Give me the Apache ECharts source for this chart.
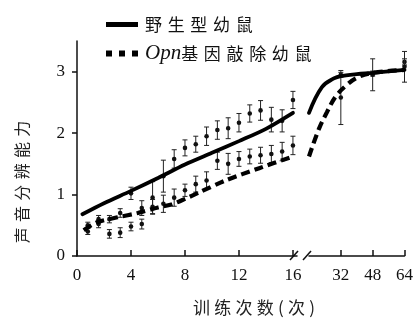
<!DOCTYPE html>
<html>
<head>
<meta charset="utf-8">
<script src="https://cdn.jsdelivr.net/npm/echarts@6/dist/echarts.min.js"></script>
<style>
  html, body { margin: 0; padding: 0; background: #fff; }
  #chart { width: 416px; height: 320px; }
</style>
</head>
<body>
<div id="chart"></div>
<script>
// Group names
const WT = '野生型幼鼠';
const KO = 'Opn基因敲除幼鼠';

// Early training sessions (0–16) with mean ± error for each group
const sessions = [0.8, 1.6, 2.4, 3.2, 4.0, 4.8, 5.6, 6.4, 7.2, 8.0, 8.8, 9.6, 10.4, 11.2, 12.0, 12.8, 13.6, 14.4, 15.2, 16.0];
const wtMean = [0.50, 0.60, 0.36, 0.38, 1.02, 0.78, 0.95, 1.30, 1.58, 1.76, 1.82, 1.95, 2.05, 2.08, 2.17, 2.32, 2.37, 2.22, 2.20, 2.54];
const wtErr  = [0.05, 0.06, 0.07, 0.08, 0.10, 0.12, 0.26, 0.26, 0.15, 0.13, 0.13, 0.15, 0.15, 0.17, 0.15, 0.14, 0.16, 0.20, 0.18, 0.14];
const koMean = [0.40, 0.52, 0.60, 0.70, 0.48, 0.52, 0.80, 0.85, 0.95, 1.07, 1.17, 1.23, 1.55, 1.50, 1.58, 1.62, 1.64, 1.66, 1.70, 1.80];
const koErr  = [0.05, 0.06, 0.06, 0.07, 0.07, 0.08, 0.12, 0.14, 0.14, 0.10, 0.13, 0.14, 0.14, 0.17, 0.12, 0.12, 0.13, 0.14, 0.15, 0.15];

// Late training sessions
const lateSessions = [32, 48, 64];
const wtLate    = [2.95, 2.97, 3.16];
const wtLateErr = [0.04, 0.04, 0.05];
const koLate    = [2.58, 2.95, 3.08];
const koLateErr = [0.44, 0.26, 0.25];

// Fitted learning curves
const wtFitX = [0.4, 2, 4, 6, 8, 10, 12, 14, 16];
const wtFitY = [0.68, 0.86, 1.06, 1.27, 1.49, 1.68, 1.87, 2.07, 2.33];
const koFitX = [0.5, 1.5, 3, 4.5, 6, 7, 8, 9, 11, 13.5, 16];
const koFitY = [0.42, 0.55, 0.63, 0.70, 0.79, 0.84, 0.93, 1.03, 1.23, 1.43, 1.62];
const wtFitLateX = [16, 22.5, 28.5, 32, 40, 48, 64];
const wtFitLateY = [2.33, 2.75, 2.89, 2.93, 2.96, 2.98, 3.03];
const koFitLateX = [16, 21, 25, 29.5, 34.5, 39.5, 46, 64];
const koFitLateY = [1.62, 2.07, 2.34, 2.60, 2.77, 2.89, 2.97, 3.03];

// Tick labels
const xTicksEarly = [0, 4, 8, 12, 16];
const xTicksLate = [32, 48, 64];
const yTicks = [0, 1, 2, 3];

const SERIF = '"Liberation Serif", "DejaVu Serif", serif';
const CJK = '"Noto Sans CJK SC", sans-serif';
const INK = '#111';

function spaced(s, gap) { return s.split('').join(gap || '\u2004'); }
function pairs(xs, ys) { return xs.map((x, i) => [x, ys[i]]); }
function triples(xs, ys, es) { return xs.map((x, i) => [x, ys[i], es[i]]); }

// Mean dot with a capped error bar
function renderErr(params, api) {
  const x = api.value(0), y = api.value(1), e = api.value(2);
  const c = api.coord([x, y]);
  const t = api.coord([x, y + e]);
  const b = api.coord([x, y - e]);
  const cap = 2.5;
  const st = { stroke: '#222', lineWidth: 1 };
  return {
    type: 'group',
    children: [
      { type: 'line', shape: { x1: c[0], y1: t[1], x2: c[0], y2: b[1] }, style: st },
      { type: 'line', shape: { x1: c[0] - cap, y1: t[1], x2: c[0] + cap, y2: t[1] }, style: st },
      { type: 'line', shape: { x1: c[0] - cap, y1: b[1], x2: c[0] + cap, y2: b[1] }, style: st },
      { type: 'circle', shape: { cx: c[0], cy: c[1], r: 2.3 }, style: { fill: INK } }
    ]
  };
}

const solidStyle = { color: '#000', width: 3.8, cap: 'round' };
const dashStyle = { color: '#000', width: 4.2, type: [9, 5], cap: 'butt' };

function xAxisBase(extra) {
  return Object.assign({
    type: 'value',
    axisLine: { show: true, lineStyle: { color: INK, width: 1.5 } },
    splitLine: { show: false }
  }, extra);
}

const chart = echarts.init(document.getElementById('chart'), null, { renderer: 'canvas' });

chart.setOption({
  animation: false,
  backgroundColor: '#fff',
  grid: [
    { left: 77, right: 119, top: 41, bottom: 64 },
    { left: 309, right: 11, top: 41, bottom: 64 }
  ],
  xAxis: [
    xAxisBase({
      gridIndex: 0, min: 0, max: 16.3,
      axisTick: { show: true, inside: true, length: 6, customValues: xTicksEarly, lineStyle: { color: INK, width: 1.5 } },
      axisLabel: { color: INK, fontFamily: SERIF, fontSize: 17, margin: 11, customValues: xTicksEarly }
    }),
    xAxisBase({
      gridIndex: 1, min: 16, max: 64,
      axisTick: { show: true, inside: true, length: 6, customValues: xTicksLate, lineStyle: { color: INK, width: 1.5 } },
      axisLabel: { color: INK, fontFamily: SERIF, fontSize: 17, margin: 11, customValues: xTicksLate }
    })
  ],
  yAxis: [
    {
      type: 'value', gridIndex: 0, min: 0, max: 3.5,
      axisLine: { show: true, lineStyle: { color: INK, width: 1.5 } },
      axisTick: { show: true, inside: false, length: 5, customValues: yTicks, lineStyle: { color: INK, width: 1.5 } },
      axisLabel: { color: INK, fontFamily: SERIF, fontSize: 17, margin: 12, customValues: yTicks },
      splitLine: { show: false }
    },
    { type: 'value', gridIndex: 1, min: 0, max: 3.5, show: false }
  ],
  legend: {
    orient: 'vertical',
    left: 98, top: 11,
    itemWidth: 32, itemHeight: 18, itemGap: 10,
    selectedMode: false,
    data: [
      { name: WT, itemStyle: { opacity: 0 }, lineStyle: { color: '#000', width: 5, type: 'solid', cap: 'butt' } },
      { name: KO, itemStyle: { opacity: 0 }, lineStyle: { color: '#000', width: 6, type: [6, 7], cap: 'butt' } }
    ],
    formatter: function (name) {
      if (name === KO) return '{i|Opn}{c|' + spaced('基因敲除幼鼠') + '}';
      return '{c|' + spaced(name) + '}';
    },
    textStyle: {
      padding: [0, 0, 0, 2],
      rich: {
        i: { fontFamily: SERIF, fontStyle: 'italic', fontSize: 21, color: INK },
        c: { fontFamily: CJK, fontSize: 17, color: INK }
      }
    }
  },
  series: [
    { name: WT, type: 'line', xAxisIndex: 0, yAxisIndex: 0, data: pairs(wtFitX, wtFitY), smooth: 0.3, symbol: 'none', lineStyle: solidStyle, z: 3 },
    { name: KO, type: 'line', xAxisIndex: 0, yAxisIndex: 0, data: pairs(koFitX, koFitY), smooth: 0.3, symbol: 'none', lineStyle: dashStyle, z: 3 },
    { name: WT, type: 'line', xAxisIndex: 1, yAxisIndex: 1, data: pairs(wtFitLateX, wtFitLateY), smooth: 0.4, symbol: 'none', lineStyle: solidStyle, z: 3 },
    { name: KO, type: 'line', xAxisIndex: 1, yAxisIndex: 1, data: pairs(koFitLateX, koFitLateY), smooth: 0.4, symbol: 'none', lineStyle: dashStyle, z: 3 },
    { name: WT, type: 'custom', xAxisIndex: 0, yAxisIndex: 0, data: triples(sessions, wtMean, wtErr), renderItem: renderErr, encode: { x: 0, y: 1 }, clip: false, z: 2 },
    { name: KO, type: 'custom', xAxisIndex: 0, yAxisIndex: 0, data: triples(sessions, koMean, koErr), renderItem: renderErr, encode: { x: 0, y: 1 }, clip: false, z: 2 },
    { name: WT, type: 'custom', xAxisIndex: 1, yAxisIndex: 1, data: triples(lateSessions, wtLate, wtLateErr), renderItem: renderErr, encode: { x: 0, y: 1 }, clip: false, z: 2 },
    { name: KO, type: 'custom', xAxisIndex: 1, yAxisIndex: 1, data: triples(lateSessions, koLate, koLateErr), renderItem: renderErr, encode: { x: 0, y: 1 }, clip: false, z: 2 }
  ],
  graphic: [
    // axis break marks
    { type: 'line', shape: { x1: 290, y1: 260, x2: 298, y2: 251 }, style: { stroke: INK, lineWidth: 1.5 } },
    { type: 'line', shape: { x1: 303, y1: 260, x2: 311, y2: 251 }, style: { stroke: INK, lineWidth: 1.5 } },
    // axis titles
    {
      type: 'text', x: 254, y: 308,
      style: { text: spaced('训练次数(次)', '\u2005'), fontFamily: CJK, fontSize: 17, fill: '#222', align: 'center', verticalAlign: 'middle' }
    },
    {
      type: 'text', x: 22, y: 182, rotation: Math.PI / 2,
      style: { text: spaced('声音分辨能力'), fontFamily: CJK, fontSize: 16, fill: '#222', align: 'center', verticalAlign: 'middle' }
    }
  ]
});
</script>
</body>
</html>
